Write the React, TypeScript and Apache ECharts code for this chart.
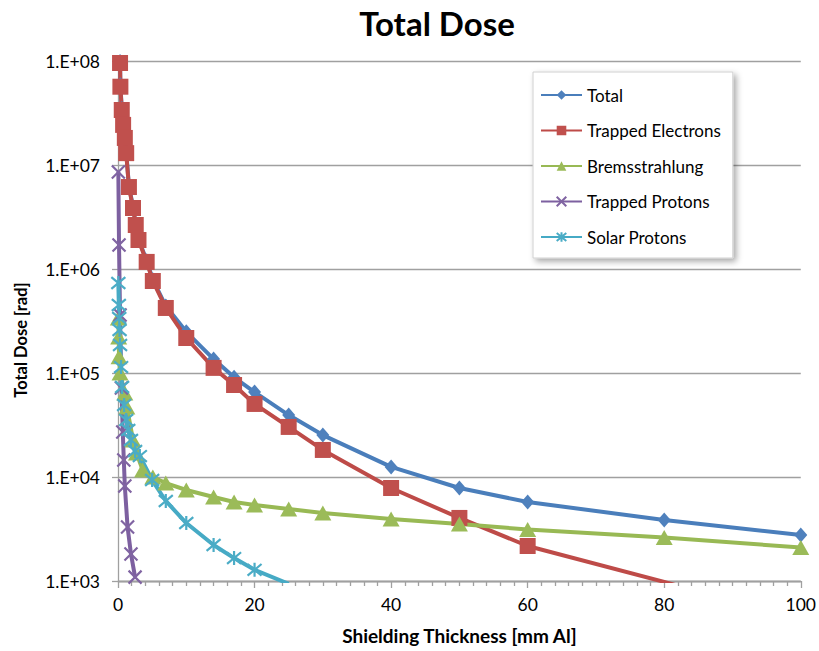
import React, { useEffect, useRef } from "react";
import * as echarts from "echarts";

const chartTitle = "Total Dose";
const xAxisTitle = "Shielding Thickness [mm Al]";
const yAxisTitle = "Total Dose [rad]";
const seriesNames = ["Total", "Trapped Electrons", "Bremsstrahlung", "Trapped Protons", "Solar Protons"];
const yTickLabels = ["1.E+03", "1.E+04", "1.E+05", "1.E+06", "1.E+07", "1.E+08"];
const xTickLabels = ["0", "20", "40", "60", "80", "100"];

const totalDepth = [0.3, 0.35, 0.55, 0.75, 1.0, 1.2, 1.6, 2.2, 2.6, 3.0, 4.2, 5.1, 7, 10, 14, 17, 20, 25, 30, 40, 50, 60, 80, 100];
const totalDose = [9.9e7, 5.9e7, 3.5e7, 2.5e7, 1.87e7, 1.34e7, 6.3e6, 3.95e6, 2.7e6, 1.94e6, 1.2e6, 7.9e5, 4.4e5, 2.49e5, 1.36e5, 9.1e4, 6.56e4, 3.94e4, 2.53e4, 1.25e4, 7.84e3, 5.75e3, 3.86e3, 2.77e3];

const electronDepth = [0.3, 0.35, 0.55, 0.75, 1.0, 1.2, 1.6, 2.2, 2.6, 3.0, 4.2, 5.1, 7, 10, 14, 17, 20, 25, 30, 40, 50, 60, 80, 100];
const electronDose = [9.57e7, 5.66e7, 3.38e7, 2.43e7, 1.82e7, 1.3e7, 6.14e6, 3.86e6, 2.65e6, 1.9e6, 1.17e6, 7.67e5, 4.22e5, 2.17e5, 1.12e5, 7.67e4, 5.04e4, 3.03e4, 1.82e4, 7.84e3, 4.04e3, 2.17e3, 980, 420];

const bremsDepth = [0.05, 0.1, 0.15, 0.3, 1.0, 1.3, 2.2, 2.7, 3.6, 5.1, 7, 10, 14, 17, 20, 25, 30, 40, 50, 60, 80, 100];
const bremsDose = [3.38e5, 2.22e5, 1.43e5, 1.0e5, 6.43e4, 4.71e4, 2.27e4, 1.7e4, 1.17e4, 1.0e4, 8.75e3, 7.5e3, 6.42e3, 5.75e3, 5.38e3, 4.92e3, 4.51e3, 3.95e3, 3.53e3, 3.13e3, 2.62e3, 2.1e3];

const protonDepth = [0.05, 0.15, 0.3, 0.5, 0.7, 0.85, 1.0, 1.4, 1.9, 2.5];
const protonDose = [8.57e6, 1.7e6, 3.61e5, 7.18e4, 2.71e4, 1.46e4, 8.19e3, 3.3e3, 1.82e3, 1.09e3];

const solarDepth = [0.05, 0.12, 0.18, 0.23, 0.3, 0.45, 0.6, 0.9, 1.2, 1.5, 1.9, 2.5, 3.2, 5, 7, 10, 14, 17, 20, 25];
const solarDose = [7.33e5, 4.51e5, 3.38e5, 2.59e5, 1.86e5, 1.14e5, 7.33e4, 4.92e4, 3.53e4, 2.83e4, 2.27e4, 1.78e4, 1.59e4, 9.35e3, 5.88e3, 3.61e3, 2.22e3, 1.66e3, 1.28e3, 940];

const FONT = "Lato, 'Open Sans', sans-serif";
const X_PATH = "path://M0,0L10,10M10,0L0,10";
const STAR_PATH = "path://M0,0L10,10M10,0L0,10M5,-1L5,11";

function pairs(depth: number[], dose: number[]) {
  return depth.map((d, i) => [d, dose[i]]);
}

export default function App() {
  const ref = useRef<HTMLDivElement>(null);
  useEffect(() => {
    if (!ref.current) return;
    const chart = echarts.init(ref.current, undefined, { renderer: "svg" });
    const lineSeries = (
      name: string,
      data: number[][],
      lineColor: string,
      markColor: string,
      symbol: string,
      symbolSize: number | number[],
      stroked: boolean
    ) => ({
      name,
      type: "line",
      data,
      clip: true,
      symbol,
      symbolSize,
      showSymbol: true,
      lineStyle: { color: lineColor, width: 4 },
      itemStyle: stroked
        ? { color: markColor, borderColor: markColor, borderWidth: 2.2 }
        : { color: markColor, borderWidth: 0 },
      emphasis: { disabled: true },
    });

    chart.setOption({
      animation: false,
      backgroundColor: "#ffffff",
      grid: { left: 118, right: 16, top: 61, bottom: 70 },
      graphic: [
        {
          type: "text",
          x: 437,
          y: 23,
          style: {
            text: chartTitle,
            fontFamily: FONT,
            fontWeight: "bold",
            fontSize: 33,
            fill: "#000",
            align: "center",
            verticalAlign: "middle",
          },
        },
        {
          type: "text",
          x: 21,
          y: 340,
          rotation: Math.PI / 2,
          style: {
            text: yAxisTitle,
            fontFamily: FONT,
            fontWeight: "bold",
            fontSize: 16.5,
            fill: "#000",
            align: "center",
            verticalAlign: "middle",
          },
        },
      ],
      legend: {
        orient: "vertical",
        left: 533,
        top: 72,
        padding: [13, 12, 11, 7],
        itemWidth: 41,
        itemHeight: 12,
        itemGap: 15.5,
        backgroundColor: "#ffffff",
        borderColor: "#d0d0d0",
        borderWidth: 1,
        shadowBlur: 6,
        shadowOffsetX: 3,
        shadowOffsetY: 3,
        shadowColor: "rgba(0,0,0,0.35)",
        textStyle: { fontFamily: FONT, fontSize: 17, color: "#000", lineHeight: 20 },
        data: seriesNames,
      },
      xAxis: {
        type: "value",
        min: 0,
        max: 100,
        interval: 20,
        name: xAxisTitle,
        nameLocation: "middle",
        nameGap: 45,
        nameTextStyle: { fontFamily: FONT, fontWeight: "bold", fontSize: 19, color: "#000" },
        axisLine: { show: true, lineStyle: { color: "#a0a0a0", width: 1.3 } },
        axisTick: { show: true, length: 7, lineStyle: { color: "#a0a0a0", width: 1.3 } },
        minorTick: { show: true, splitNumber: 10, length: 5, lineStyle: { color: "#a0a0a0", width: 1.3 } },
        splitLine: { show: false },
        axisLabel: {
          fontFamily: FONT,
          fontSize: 17.5,
          color: "#000",
          margin: 14,
          formatter: (v: number) => xTickLabels[Math.round(v / 20)] ?? "",
        },
      },
      yAxis: {
        type: "log",
        logBase: 10,
        min: 1000,
        max: 1e8,
        splitNumber: 5,
        axisLine: { show: true, lineStyle: { color: "#a0a0a0", width: 1.3 } },
        axisTick: { show: true, length: 6, lineStyle: { color: "#a0a0a0", width: 1.3 } },
        splitLine: { show: true, lineStyle: { color: "#a0a0a0", width: 1.3 } },
        axisLabel: {
          fontFamily: FONT,
          fontSize: 17.5,
          color: "#000",
          margin: 18,
          formatter: (v: number) => yTickLabels[Math.round(Math.log10(v)) - 3] ?? "",
        },
      },
      series: [
        lineSeries(seriesNames[0], pairs(totalDepth, totalDose), "#4A7EBB", "#4F81BD", "diamond", [13, 15], false),
        lineSeries(seriesNames[1], pairs(electronDepth, electronDose), "#BE4B48", "#C0504D", "rect", 16, false),
        lineSeries(seriesNames[2], pairs(bremsDepth, bremsDose), "#98B954", "#9BBB59", "triangle", [17, 15], false),
        lineSeries(seriesNames[3], pairs(protonDepth, protonDose), "#7D60A0", "#8064A2", X_PATH, 13, true),
        lineSeries(seriesNames[4], pairs(solarDepth, solarDose), "#46AAC5", "#4BACC6", STAR_PATH, 14, true),
      ],
    });
    return () => chart.dispose();
  }, []);
  return (
    <div
      ref={ref}
      style={{ position: "absolute", left: 0, top: 0, width: 819, height: 651 }}
    />
  );
}
